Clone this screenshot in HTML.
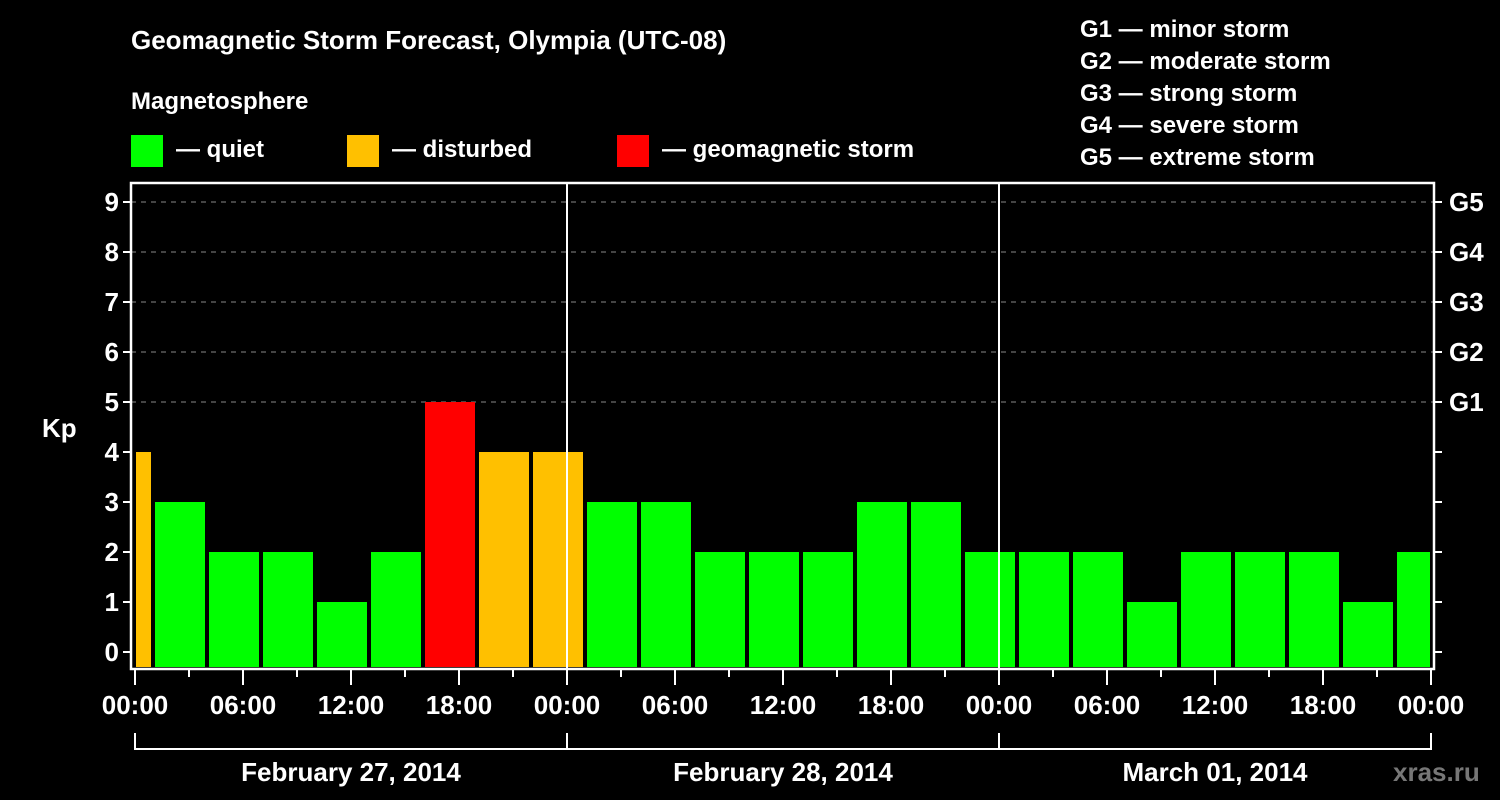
<!DOCTYPE html>
<html><head><meta charset="utf-8"><style>
html,body{margin:0;padding:0;background:#000;}
svg{display:block;font-family:"Liberation Sans",Arial,sans-serif;font-weight:bold;}
</style></head><body>
<svg id="chart" width="1500" height="800" viewBox="0 0 1500 800">
<rect width="1500" height="800" fill="#000"/>
<text x="131" y="49" fill="#fff" font-size="26">Geomagnetic Storm Forecast, Olympia (UTC-08)</text>
<text x="131" y="109" fill="#fff" font-size="24">Magnetosphere</text>
<g>
<rect x="131" y="135" width="32" height="32" fill="#00ff00"/>
<text x="176" y="157" fill="#fff" font-size="24">— quiet</text>
<rect x="347" y="135" width="32" height="32" fill="#ffc000"/>
<text x="392" y="157" fill="#fff" font-size="24">— disturbed</text>
<rect x="617" y="135" width="32" height="32" fill="#ff0000"/>
<text x="662" y="157" fill="#fff" font-size="24">— geomagnetic storm</text>
</g>
<g fill="#fff" font-size="24">
<text x="1080" y="37">G1 — minor storm</text>
<text x="1080" y="69">G2 — moderate storm</text>
<text x="1080" y="101">G3 — strong storm</text>
<text x="1080" y="133">G4 — severe storm</text>
<text x="1080" y="165">G5 — extreme storm</text>
</g>
<text x="42" y="437" fill="#fff" font-size="26">Kp</text>
<text x="1393" y="781" fill="#777" font-size="26">xras.ru</text>
<g id="plot"></g>
</svg>
<script>
const kpValues=[4,3,2,2,1,2,5,4,4,3,3,2,2,2,3,3,2,2,2,1,2,2,2,1,2];
const binStartHours=[-2,1,4,7,10,13,16,19,22,25,28,31,34,37,40,43,46,49,52,55,58,61,64,67,70];
const yTicks=[0,1,2,3,4,5,6,7,8,9];
const gLabels=["G1","G2","G3","G4","G5"];
const gLevels=[5,6,7,8,9];
const xTickLabels=["00:00","06:00","12:00","18:00","00:00","06:00","12:00","18:00","00:00","06:00","12:00","18:00","00:00"];
const dayLabels=["February 27, 2014","February 28, 2014","March 01, 2014"];

const NS="http://www.w3.org/2000/svg";
const g=document.getElementById('plot');
const X0=135,PXH=18,Y0=652,PXK=50,TOP=183,BOT=669,LEFT=131,RIGHT=1434,XMAX=X0+72*PXH;
const x=h=>X0+h*PXH, y=k=>Y0-k*PXK;
function mk(tag,attrs,parent){const e=document.createElementNS(NS,tag);for(const k in attrs)e.setAttribute(k,attrs[k]);(parent||g).appendChild(e);return e;}
function color(k){return k>=5?'#ff0000':(k>=4?'#ffc000':'#00ff00');}

// gridlines
gLevels.forEach(k=>{const l=mk('line',{x1:LEFT,x2:RIGHT,y1:y(k),y2:y(k),stroke:'#888','stroke-width':1,'stroke-dasharray':'5,5'});

});

// bars
kpValues.forEach((k,i)=>{
 let a=x(binStartHours[i])+2,b=x(binStartHours[i]+3)-2;
 a=Math.max(a,X0+1);b=Math.min(b,XMAX-1);
 const r=mk('rect',{x:a,y:y(k)-Math.max(0,0),width:b-a,height:(BOT-2)-y(k),fill:color(k)});
 
 
});

// day separators
[24,48].forEach(h=>{const l=mk('line',{x1:x(h),x2:x(h),y1:TOP,y2:BOT,stroke:'#fff','stroke-width':2});

});

// frame
const f=mk('rect',{x:LEFT,y:TOP,width:RIGHT-LEFT,height:BOT-TOP,fill:'none',stroke:'#fff','stroke-width':2.5});



// y ticks
yTicks.forEach(k=>{
 mk('line',{x1:LEFT-8,x2:LEFT,y1:y(k),y2:y(k),stroke:'#fff','stroke-width':2});
 mk('line',{x1:RIGHT,x2:RIGHT+8,y1:y(k),y2:y(k),stroke:'#fff','stroke-width':2});
 const t=mk('text',{x:LEFT-12,y:y(k)+9,fill:'#fff','font-size':26,'text-anchor':'end'});
 t.textContent=k;
 
 
});
gLevels.forEach((k,i)=>{
 const t=mk('text',{x:1449,y:y(k)+9,fill:'#fff','font-size':26});
 t.textContent=gLabels[i];
 
 
});

// x ticks
for(let h=0;h<=72;h+=3){const major=h%6===0;
 mk('line',{x1:x(h),x2:x(h),y1:BOT,y2:BOT+(major?16:8),stroke:'#fff','stroke-width':2});}
xTickLabels.forEach((s,i)=>{
 const t=mk('text',{x:x(i*6),y:714,fill:'#fff','font-size':26,'text-anchor':'middle'});
 t.textContent=s;
 
 
});
// date bracket
mk('line',{x1:X0,x2:XMAX,y1:749,y2:749,stroke:'#fff','stroke-width':2});
[0,24,48,72].forEach(h=>mk('line',{x1:x(h),x2:x(h),y1:733,y2:750,stroke:'#fff','stroke-width':2}));
dayLabels.forEach((s,i)=>{
 const t=mk('text',{x:x(i*24+12),y:781,fill:'#fff','font-size':26,'text-anchor':'middle'});
 t.textContent=s;
 
 
});
</script>
</body></html>
